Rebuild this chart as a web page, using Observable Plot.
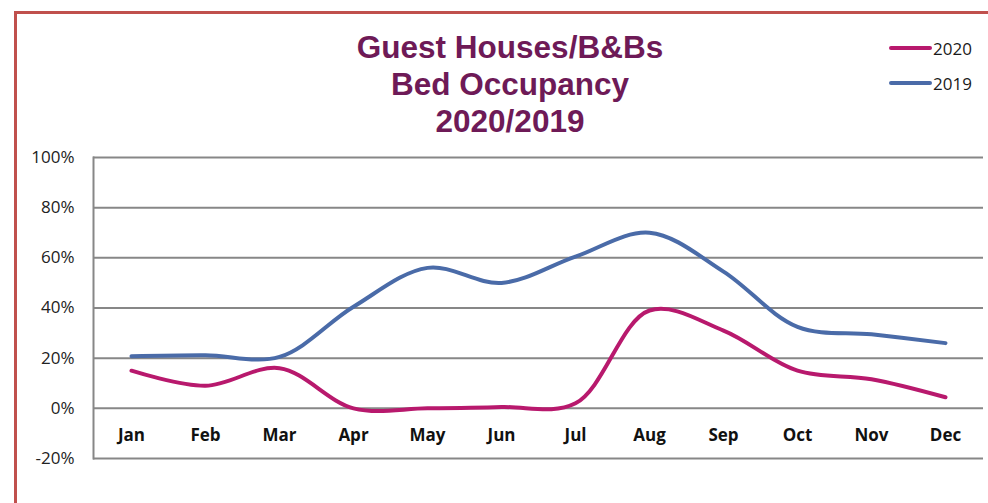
<!DOCTYPE html>
<html>
<head>
<meta charset="utf-8">
<script src="https://cdn.jsdelivr.net/npm/d3@7"></script>
<script src="https://cdn.jsdelivr.net/npm/@observablehq/plot@0.6"></script>
<style>
  html, body { margin: 0; padding: 0; background: #fff; overflow: hidden; }
  #wrap { position: relative; width: 988px; height: 503px; }
  #chart { position: absolute; left: 0; top: 0; }
  #border { position: absolute; left: 14px; top: 11px; width: 990px; height: 500px;
            border-top: 3px solid #c0504d; border-left: 3px solid #c0504d; box-sizing: border-box; }
  #title { position: absolute; left: 260px; width: 500px; top: 28.6px; text-align: center;
           font-family: "Liberation Sans", Arial, sans-serif; font-weight: bold; font-size: 31.5px;
           line-height: 37px; color: #6e1a57; }
  .leg { position: absolute; left: 889px; font-family: "Open Sans", sans-serif; font-size: 17px;
         color: #1a1a1a; display: flex; align-items: center; height: 20px; }
  .leg .sw { width: 43px; height: 4px; border-radius: 2px; margin-right: 1px; }
</style>
</head>
<body>
<div id="wrap">
  <div id="chart"></div>
  <div id="border"></div>
  <div id="title"></div>
  <div id="legend"></div>
</div>
<script>
const months = ["Jan","Feb","Mar","Apr","May","Jun","Jul","Aug","Sep","Oct","Nov","Dec"];
const occ2020 = [15, 9, 16, 0, 0, 0.5, 2, 39, 31, 15, 11.6, 4.4];
const occ2019 = [20.8, 21.2, 20.5, 40.5, 56, 50, 60.5, 70, 54.5, 32.5, 29.5, 26];
const yTicks = [-20, 0, 20, 40, 60, 80, 100];
const seriesNames = ["2020", "2019"];
const seriesColors = ["#b8196d", "#4a6ba8"];
const titleLines = ["Guest Houses/B&Bs", "Bed Occupancy", "2020/2019"];

const rows = [];
months.forEach((m, i) => {
  rows.push({month: m, value: occ2020[i], series: seriesNames[0]});
  rows.push({month: m, value: occ2019[i], series: seriesNames[1]});
});

const chart = Plot.plot({
  width: 988,
  height: 503,
  marginLeft: 93,
  marginRight: 5,
  marginTop: 157,
  marginBottom: 45,
  style: {fontFamily: "'Open Sans', sans-serif", fontSize: "17px", color: "#222", background: "transparent"},
  x: {type: "point", domain: months, padding: 0.5, axis: null},
  y: {domain: [-20, 100], ticks: yTicks, tickFormat: d => d + "%", tickSize: 0, tickPadding: 19, label: null},
  color: {domain: seriesNames, range: seriesColors},
  marks: [
    Plot.ruleY(yTicks, {stroke: "#878787", strokeWidth: 2}),
    Plot.frame({anchor: "left", stroke: "#878787", strokeWidth: 2}),
    Plot.text(months, {x: d => d, y: -10.8, text: d => d, fontWeight: "bold", fontSize: 17, fill: "#111"}),
    Plot.line(rows.filter(r => r.series === "2019"), {x: "month", y: "value", stroke: "series", strokeWidth: 4, curve: "catmull-rom"}),
    Plot.line(rows.filter(r => r.series === "2020"), {x: "month", y: "value", stroke: "series", strokeWidth: 4, curve: "catmull-rom"})
  ]
});
document.getElementById("chart").appendChild(chart);

document.getElementById("title").innerHTML = titleLines.join("<br>");

const legendTops = [38, 73];
const legend = document.getElementById("legend");
seriesNames.forEach((name, i) => {
  const row = document.createElement("div");
  row.className = "leg";
  row.style.top = legendTops[i] + "px";
  const sw = document.createElement("span");
  sw.className = "sw";
  sw.style.background = seriesColors[i];
  row.appendChild(sw);
  row.appendChild(document.createTextNode(name));
  legend.appendChild(row);
});
</script>
</body>
</html>
